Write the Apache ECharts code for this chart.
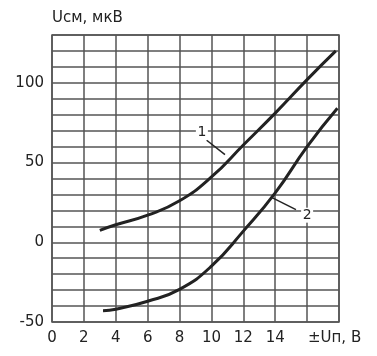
<!DOCTYPE html>
<html lang="ru">
<head>
    <meta charset="utf-8">
    <title>Uсм</title>
    <script src="https://cdn.jsdelivr.net/npm/echarts@6/dist/echarts.min.js"></script>
    <style>
        html, body { margin: 0; padding: 0; background: #fff; }
        #main { width: 377px; height: 356px; }
    </style>
</head>
<body>
    <div id="main"></div>
    <script>
        // кривая 1 и кривая 2: [±Uп, В ; Uсм, мкВ]
        var curve1 = [[3, 7.5], [4, 11], [6, 17], [8, 26], [10, 41], [12, 61], [14, 81], [16, 102], [17.8, 120]];
        var curve2 = [[3.2, -43], [4, -42], [6, -37], [8, -29.5], [10, -15], [12, 7], [14, 31], [16, 60], [17.9, 84]];
        var xLabels = [0, 2, 4, 6, 8, 10, 12, 14];
        var yLabels = [-50, 0, 50, 100];
        // выноски: [подпись, точка текста, начало линии, конец линии]
        var callout1 = ['1', [9.4, 69], [9.7, 64], [10.85, 55]];
        var callout2 = ['2', [16, 17], [15.3, 20.5], [13.8, 28]];

        var myChart = echarts.init(document.getElementById('main'));
        var ink = '#222';
        var gridColor = '#555';
        var font = 'DejaVu Sans';

        function callout(c) {
            return {
                markLine: {
                    silent: true,
                    symbol: ['none', 'none'],
                    lineStyle: { color: ink, width: 1.5, type: 'solid' },
                    label: { show: false },
                    data: [[{ coord: c[2] }, { coord: c[3] }]]
                },
                markPoint: {
                    silent: true,
                    symbol: 'rect',
                    symbolSize: [12, 15],
                    itemStyle: { color: '#fff' },
                    label: { show: true, formatter: c[0], color: ink, fontFamily: font, fontSize: 14 },
                    data: [{ coord: c[1] }]
                }
            };
        }

        var s1 = { type: 'line', data: curve1, smooth: true, symbol: 'none',
            lineStyle: { color: ink, width: 3 } };
        var s2 = { type: 'line', data: curve2, smooth: true, symbol: 'none',
            lineStyle: { color: ink, width: 3 } };
        Object.assign(s1, callout(callout1));
        Object.assign(s2, callout(callout2));

        var option = {
            animation: false,
            grid: { left: 52, right: 38, top: 35, bottom: 34, show: true, borderColor: gridColor, borderWidth: 1.5 },
            xAxis: {
                type: 'value', min: 0, max: 18, interval: 2,
                name: '±Uп, В', nameLocation: 'end', nameGap: -31,
                nameTextStyle: { color: ink, fontFamily: font, fontSize: 15, align: 'left', verticalAlign: 'top', padding: [9, 0, 0, 0] },
                axisLine: { show: false, onZero: false }, axisTick: { show: false },
                splitLine: { lineStyle: { color: gridColor, width: 1.5 } },
                axisLabel: {
                    color: ink, fontFamily: font, fontSize: 15, margin: 9,
                    formatter: function (v) { return xLabels.indexOf(v) >= 0 ? String(v) : ''; }
                }
            },
            yAxis: {
                type: 'value', min: -50, max: 130, interval: 10,
                name: 'Uсм, мкВ', nameLocation: 'end', nameGap: 17,
                nameTextStyle: { color: ink, fontFamily: font, fontSize: 15, align: 'left', verticalAlign: 'middle' },
                axisLine: { show: false, onZero: false }, axisTick: { show: false },
                splitLine: { lineStyle: { color: gridColor, width: 1.5 } },
                axisLabel: {
                    color: ink, fontFamily: font, fontSize: 15, margin: 8,
                    formatter: function (v) { return yLabels.indexOf(v) >= 0 ? String(v) : ''; }
                }
            },
            series: [s1, s2]
        };
        myChart.setOption(option);
        window.onresize = function () {
            myChart.resize();
        };
    </script>
</body>
</html>
